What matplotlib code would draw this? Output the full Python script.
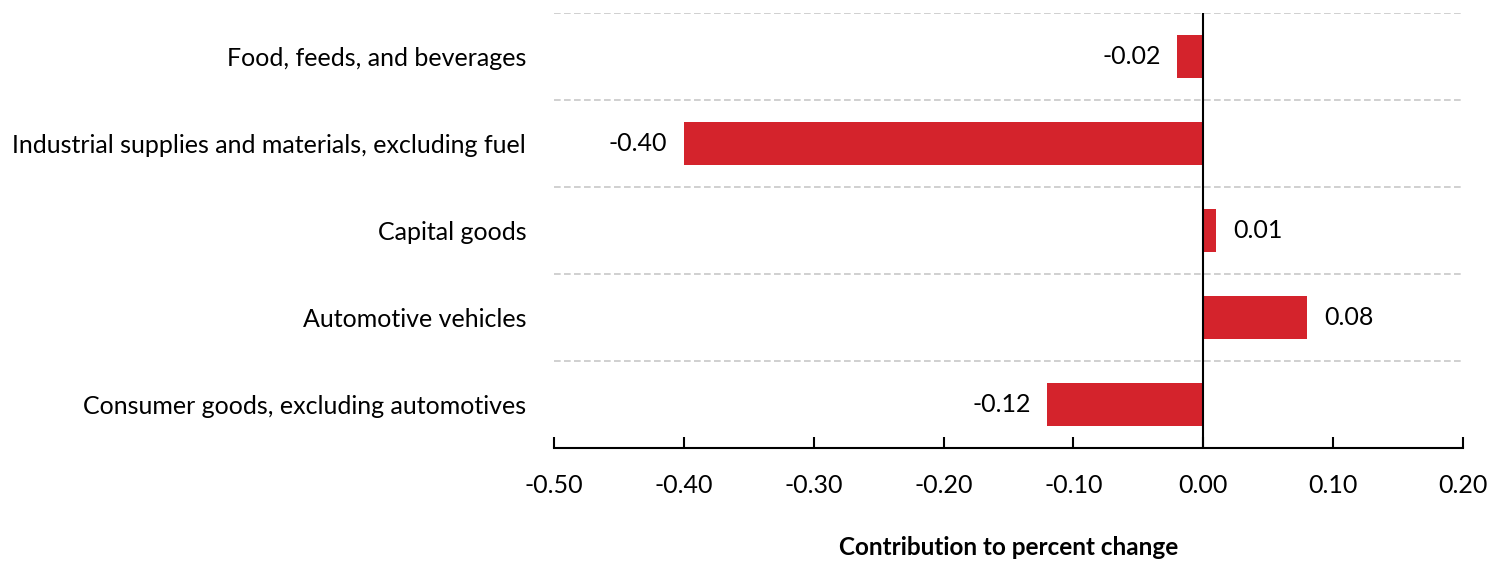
import numpy as np
import matplotlib.pyplot as plt

categories = ["Food, feeds, and beverages",
              "Industrial supplies and materials, excluding fuel",
              "Capital goods",
              "Automotive vehicles",
              "Consumer goods, excluding automotives"]
values = [-0.02, -0.40, 0.01, 0.08, -0.12]
xticks = [-0.50, -0.40, -0.30, -0.20, -0.10, 0.00, 0.10, 0.20]

plt.rcParams['font.family'] = ['Lato', 'DejaVu Sans']

fig = plt.figure(figsize=(15.04, 5.61), dpi=100)
ax = fig.add_axes([554 / 1504, 1 - 448 / 561, (1463 - 554) / 1504, (448 - 13) / 561])

y = np.arange(len(categories))
ax.barh(y, values, height=0.5, color='#D4232C', zorder=2)

# value labels next to bar ends
for yi, v in zip(y, values):
    off = 12 if v >= 0 else -12
    ax.annotate(f"{v:.2f}", (v, yi), xytext=(off, 0), textcoords='offset points',
                ha='left' if v >= 0 else 'right', va='center', fontsize=18)

ax.set_xlim(-0.5, 0.2)
ax.set_ylim(len(categories) - 0.5, -0.5)

# dashed separators between categories
for g in np.arange(-0.5, len(categories) - 1, 1.0):
    ax.axhline(g, color='#C8C8C8', linestyle=(0, (4, 2)), linewidth=1.2, zorder=1)
ax.axvline(0, color='black', linewidth=1.5, zorder=3)

ax.set_yticks(y)
ax.set_yticklabels(categories, fontsize=18)
ax.tick_params(axis='y', length=0, pad=20)
ax.set_xticks(xticks)
ax.set_xticklabels([f"{t:.2f}" for t in xticks], fontsize=18)
ax.tick_params(axis='x', direction='in', length=8, width=1.5, pad=19)

for s in ['top', 'right', 'left']:
    ax.spines[s].set_visible(False)
ax.spines['bottom'].set_linewidth(1.5)

ax.set_xlabel("Contribution to percent change", fontsize=17.5, fontweight='bold', labelpad=28)

fig.savefig("out.png", dpi=100)
